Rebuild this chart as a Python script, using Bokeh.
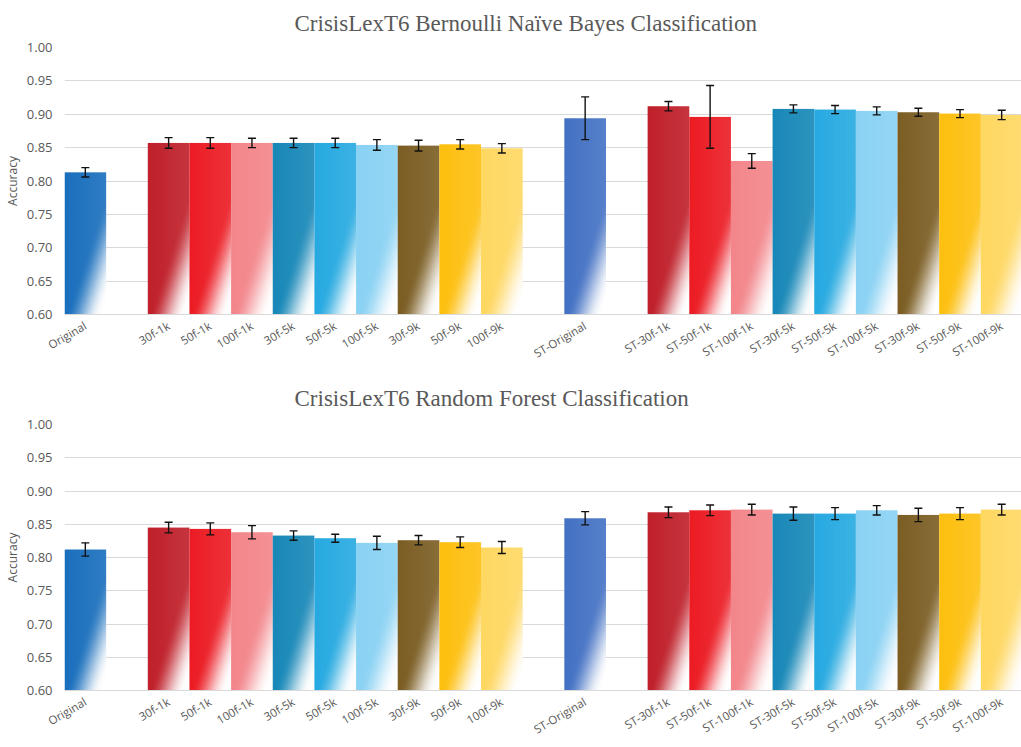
import numpy as np
from bokeh.plotting import figure
from bokeh.layouts import column
from bokeh.models import (Range1d, FixedTicker, NumeralTickFormatter, ColumnDataSource,
                          Whisker, TeeHead)
from bokeh.embed import file_html
from bokeh.resources import INLINE

# ---------------- data ----------------
labels = ["Original", "", "30f-1k", "50f-1k", "100f-1k", "30f-5k", "50f-5k", "100f-5k",
          "30f-9k", "50f-9k", "100f-9k", "", "ST-Original", "",
          "ST-30f-1k", "ST-50f-1k", "ST-100f-1k", "ST-30f-5k", "ST-50f-5k", "ST-100f-5k",
          "ST-30f-9k", "ST-50f-9k", "ST-100f-9k"]

nb_acc = [0.813, 0.857, 0.857, 0.857, 0.857, 0.857, 0.854, 0.853, 0.855, 0.849,
          0.894, 0.912, 0.896, 0.830, 0.908, 0.907, 0.905, 0.903, 0.901, 0.899]
nb_err = [0.007, 0.008, 0.008, 0.007, 0.007, 0.007, 0.008, 0.008, 0.007, 0.007,
          0.032, 0.007, 0.047, 0.011, 0.006, 0.006, 0.006, 0.006, 0.006, 0.007]

rf_acc = [0.812, 0.845, 0.843, 0.838, 0.833, 0.829, 0.822, 0.826, 0.823, 0.815,
          0.859, 0.868, 0.871, 0.872, 0.866, 0.866, 0.871, 0.864, 0.866, 0.872]
rf_err = [0.010, 0.008, 0.009, 0.010, 0.007, 0.006, 0.010, 0.007, 0.008, 0.009,
          0.010, 0.008, 0.008, 0.008, 0.010, 0.009, 0.007, 0.010, 0.009, 0.008]

colors = ["#1a6fbd", "#c0202a", "#ec1c24", "#f3868b", "#1888b8", "#27aae1", "#8ad2f4",
          "#7c5e24", "#fdc010", "#ffd862",
          "#4472c4", "#c0202a", "#ec1c24", "#f3868b", "#1888b8", "#27aae1", "#8ad2f4",
          "#7c5e24", "#fdc010", "#ffd862"]

y_ticks = [0.60, 0.65, 0.70, 0.75, 0.80, 0.85, 0.90, 0.95, 1.00]

titles = ["CrisisLexT6 Bernoulli Naïve Bayes Classification",
          "CrisisLexT6 Random Forest Classification"]

Y0, Y1 = 0.60, 1.00
GRAY = "#595959"
GRID = "#d9d9d9"
FRAME_W = 958


def hex_rgb(h):
    h = h.lstrip("#")
    return np.array([int(h[i:i + 2], 16) for i in (0, 2, 4)], dtype=float)


def texture(color, nrows, ncols=42):
    """Diagonal fade-to-white fill, like the Excel gradient bars."""
    rgb = hex_rgb(color)
    c = np.arange(ncols)[None, :].astype(float)
    r = np.arange(nrows)[:, None].astype(float)
    d = (c - 8) * 3.1 - r
    t = np.clip((d + 20) / 105.0, 0, 1)
    w = t * t * (3 - 2 * t)
    tint = 0.10 * (c / ncols)  # slight lightening to the right
    base = rgb * (1 - tint[..., None]) + 255 * tint[..., None]
    out = base * (1 - w[..., None]) + 255 * w[..., None]
    img = np.empty((nrows, ncols), dtype=np.uint32)
    view = img.view(dtype=np.uint8).reshape((nrows, ncols, 4))
    view[..., 0] = out[..., 0]
    view[..., 1] = out[..., 1]
    view[..., 2] = out[..., 2]
    view[..., 3] = 255
    return img


def make_chart(title, acc, err, frame_h, top_border, title_valign, title_standoff):
    p = figure(frame_width=FRAME_W, frame_height=frame_h, output_backend="svg",
               toolbar_location=None,
               x_range=Range1d(0, len(labels)), y_range=Range1d(Y0, Y1),
               min_border_left=63, min_border_right=0, min_border_top=top_border,
               min_border_bottom=0, background_fill_color="white",
               border_fill_color="white")
    p.outline_line_color = None
    p.title.text = title
    p.title.text_font = "Liberation Serif"
    p.title.text_font_size = "23px"
    p.title.text_font_style = "normal"
    p.title.text_color = GRAY
    p.title.align = "left"
    p.title.offset = 230
    p.title.vertical_align = title_valign
    p.title.standoff = title_standoff

    slots = [i for i, lab in enumerate(labels) if lab]
    xs = [i + 0.5 for i in slots]
    ppu = frame_h / (Y1 - Y0)
    imgs, ix, iy, dw, dh = [], [], [], [], []
    for i, v, col in zip(slots, acc, colors):
        nrows = max(2, int(round((v - Y0) * ppu)))
        imgs.append(texture(col, nrows))
        ix.append(i)
        iy.append(Y0)
        dw.append(1)
        dh.append(v - Y0)
    p.image_rgba(image=imgs, x=ix, y=iy, dw=dw, dh=dh)

    src = ColumnDataSource(dict(x=xs, up=[a + e for a, e in zip(acc, err)],
                                lo=[a - e for a, e in zip(acc, err)]))
    wk = Whisker(source=src, base="x", upper="up", lower="lo", dimension="height",
                 line_color="#111111", line_width=1.4, level="annotation",
                 upper_head=TeeHead(size=8, line_color="#111111", line_width=1.4),
                 lower_head=TeeHead(size=8, line_color="#111111", line_width=1.4))
    p.add_layout(wk)

    # y axis
    p.yaxis.ticker = FixedTicker(ticks=y_ticks)
    p.yaxis.formatter = NumeralTickFormatter(format="0.00")
    p.yaxis.axis_line_color = None
    p.yaxis.major_tick_line_color = None
    p.yaxis.minor_tick_line_color = None
    p.yaxis.major_tick_out = 0
    p.yaxis.major_tick_in = 0
    p.yaxis.major_label_standoff = 12
    p.yaxis.major_label_text_font = "Open Sans"
    p.yaxis.major_label_text_font_size = "13px"
    p.yaxis.major_label_text_color = GRAY
    p.yaxis.axis_label = "Accuracy"
    p.yaxis.axis_label_text_font = "Open Sans"
    p.yaxis.axis_label_text_font_size = "12px"
    p.yaxis.axis_label_text_font_style = "normal"
    p.yaxis.axis_label_text_color = GRAY
    p.yaxis.axis_label_standoff = 3

    # x axis
    p.xaxis.ticker = FixedTicker(ticks=xs)
    p.xaxis.major_label_overrides = {x: labels[i] for x, i in zip(xs, slots)}
    p.xaxis.axis_line_color = GRID
    p.xaxis.major_tick_line_color = None
    p.xaxis.minor_tick_line_color = None
    p.xaxis.major_tick_out = 0
    p.xaxis.major_tick_in = 0
    p.xaxis.major_label_standoff = 10
    p.xaxis.major_label_orientation = 0.53
    p.xaxis.major_label_text_font = "Open Sans"
    p.xaxis.major_label_text_font_size = "11.5px"
    p.xaxis.major_label_text_color = GRAY

    p.xgrid.grid_line_color = None
    p.ygrid.grid_line_color = GRID
    p.ygrid.grid_line_width = 1
    p.ygrid.level = "underlay"
    return p


p1 = make_chart(titles[0], nb_acc, nb_err, 267, 47, "top", 20)
p2 = make_chart(titles[1], rf_acc, rf_err, 266, 30, "bottom", 28)

layout = column(p1, p2)
open("out.html", "w").write(file_html(layout, INLINE))
